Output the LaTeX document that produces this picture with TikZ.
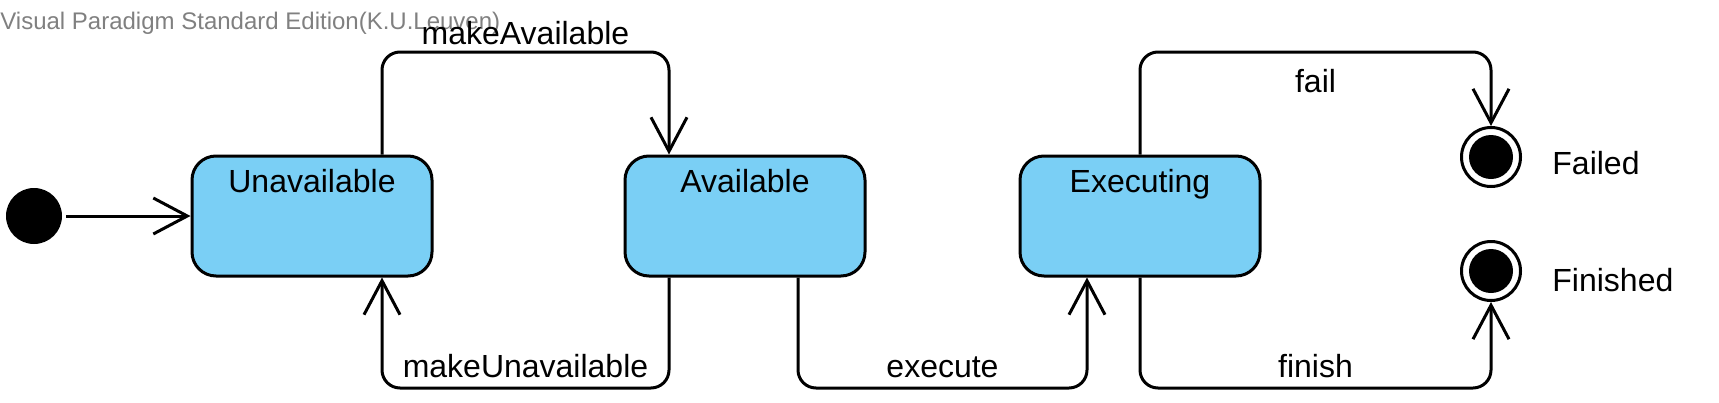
\documentclass[tikz,border=0pt]{standalone}
\usepackage{fontspec}
\setmainfont{Liberation Sans}
\usetikzlibrary{arrows.meta}
\definecolor{stfill}{RGB}{122,207,245}
\definecolor{wm}{RGB}{128,128,128}
\begin{document}
\begin{tikzpicture}[x=0.5pt,y=-0.5pt,
  every node/.style={font=\fontsize{16pt}{19pt}\selectfont},
  state/.style={draw, line width=1.5pt, fill=stfill, rounded corners=12pt,
    minimum width=120pt, inner sep=0pt, text height=18pt, text depth=42pt, align=center},
  initst/.style={circle, fill=black, minimum size=28pt, inner sep=0pt},
  finalst/.style={circle, draw, line width=1.5pt, minimum size=29.5pt, inner sep=0pt,
    path picture={\fill[black] (path picture bounding box.center) circle (11pt);}},
  plain/.style={inner sep=0pt},
  trans/.style={line width=1.5pt, rounded corners=9pt, -{Straight Barb[length=17pt,width=18pt]}},
  lab/.style={midway, anchor=base, inner sep=0pt}
]
\useasboundingbox (0,0) rectangle (1719,402);
% watermark
\node[plain, anchor=base west, text=wm, font=\fontsize{12pt}{14pt}\selectfont] (wmark) at (0,29) {Visual Paradigm Standard Edition(K.U.Leuven)};
% states
\node[initst] (init) at (34,216) {};
\node[state] (unav) at (312,216) {Unavailable};
\node[state] (av) at (745,216) {Available};
\node[state] (exec) at (1140,216) {Executing};
\node[finalst] (failed) at (1491,157) {};
\node[finalst] (finished) at (1491,271) {};
\node[plain, anchor=base west] (failedlbl) at (1552,174) {Failed};
\node[plain, anchor=base west] (finishedlbl) at (1552,291) {Finished};
% helper coordinates
\coordinate (top) at (0,52);
\coordinate (bot) at (0,388);
\coordinate (u1) at ([xshift=35pt]unav.north);
\coordinate (a1) at ([xshift=-38pt]av.north);
\coordinate (u2) at ([xshift=35pt]unav.south);
\coordinate (a2) at ([xshift=-38pt]av.south);
\coordinate (a3) at ([xshift=26.5pt]av.south);
\coordinate (e3) at ([xshift=-26.5pt]exec.south);
% transitions
\draw[trans, shorten <=2pt] (init) -- (unav);
\draw[trans] (u1) -- (u1 |- top) -- (a1 |- top) node[lab, yshift=4pt] {makeAvailable} -- (a1);
\draw[trans] (a2) -- (a2 |- bot) -- (u2 |- bot) node[lab, yshift=5.5pt] {makeUnavailable} -- (u2);
\draw[trans] (a3) -- (a3 |- bot) -- (e3 |- bot) node[lab, yshift=5.5pt] {execute} -- (e3);
\draw[trans] (exec.north) -- (exec.north |- top) -- (failed.north |- top) node[lab, yshift=-20pt] {fail} -- (failed.north);
\draw[trans] (exec.south) -- (exec.south |- bot) -- (finished.south |- bot) node[lab, yshift=5.5pt] {finish} -- (finished.south);
\end{tikzpicture}
\end{document}
